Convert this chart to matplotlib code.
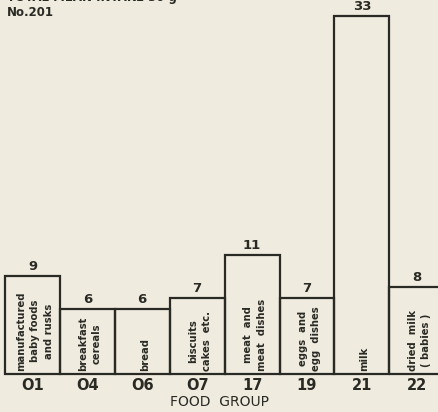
import matplotlib
matplotlib.use("Agg")
import matplotlib.pyplot as plt

codes = ["01", "04", "06", "07", "17", "19", "21", "22"]
values = [9, 6, 6, 7, 11, 7, 33, 8]
names = ["manufactured\nbaby foods\nand rusks", "breakfast\ncereals", "bread",
         "biscuits\ncakes  etc.", "meat  and\nmeat  dishes", "eggs  and\negg  dishes",
         "milk", "dried  milk\n( babies )"]
tick_labels = ["O1", "O4", "O6", "O7", "17", "19", "21", "22"]
xlabel = "FOOD  GROUP"
header = ["TOTAL MEAN INTAKE 30 g", "No.201"]

bg = "#efebdf"
ink = "#2a2a24"

W, H = 438, 412
fig = plt.figure(figsize=(W / 100, H / 100), dpi=100, facecolor=bg)
base_px = 38
ax = fig.add_axes([0, base_px / H, 1, 1 - base_px / H])
ax.set_facecolor(bg)
px_per_unit_x = 54.9
ax.set_xlim(-5 / px_per_unit_x, (W - 5) / px_per_unit_x)
ax.set_ylim(0, (H - base_px) / 10.85)
for s in ax.spines.values():
    s.set_visible(False)
ax.set_yticks([])

xs = list(range(len(codes)))
ax.bar(xs, values, width=1.0, align="edge", facecolor="none",
       edgecolor=ink, linewidth=1.6, clip_on=False)

ax.set_xticks([x + 0.5 for x in xs])
ax.set_xticklabels(tick_labels, fontsize=10.5, color=ink, fontweight="semibold")
ax.tick_params(axis="x", length=0, pad=3)
ax.set_xlabel(xlabel, fontsize=10, color=ink, labelpad=1)

for x, v, n in zip(xs, values, names):
    ax.text(x + 0.5, v + 0.28, str(v), ha="center", va="bottom",
            fontsize=9.5, fontweight="bold", color=ink)
    ax.text(x + 0.55, 0.3, n, ha="center", va="bottom", rotation=90,
            fontsize=7.2, fontweight="bold", color=ink, linespacing=1.45)

fig.text(7 / W, 1 + 8.6 / H, header[0], ha="left", va="top",
         fontsize=8.5, fontweight="bold", color=ink)
fig.text(7 / W, 1 - 6 / H, header[1], ha="left", va="top",
         fontsize=8.5, fontweight="bold", color=ink)

fig.savefig("out.png", dpi=100, facecolor=bg)
